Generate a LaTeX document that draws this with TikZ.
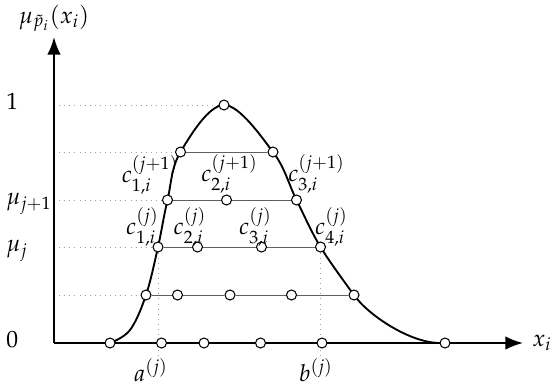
\documentclass[tikz,border=0pt]{standalone}
\usepackage{mathpazo}
\usepackage{tikz}
\usetikzlibrary{arrows.meta,positioning,backgrounds}
\tikzset{
  % axes with big filled heads
  axisln/.style={-{Latex[length=8.5pt,width=6.5pt]}, line width=0.9pt},
  % membership curve
  curveln/.style={line width=0.9pt, line join=round},
  % alpha-cut levels
  levelln/.style={line width=0.45pt, gray!75!black},
  % helper lines to the axes
  projln/.style={dotted, line width=0.45pt, gray!75},
  % sample points
  ptnode/.style={circle, draw, line width=0.5pt, fill=white, inner sep=0pt, minimum size=4.8pt},
  % tick labels
  ticklbl/.style={anchor=mid west, inner sep=0pt},
}

\begin{document}
\begin{tikzpicture}[x=0.48pt, y=0.48pt, font=\fontsize{11.3}{13.6}\selectfont]
    \useasboundingbox (0,0) rectangle (550,386);
    % axes end points
    \coordinate (o) at (54,43);
    \coordinate (ytip) at (54,349);
    \coordinate (xtip) at (523,43);
    % points on the curve
    \node[ptnode] (f0) at (110,43) {};
    \node[ptnode] (l1) at (146,91) {};
    \node[ptnode] (l2) at (158,139) {};
    \node[ptnode] (l3) at (167.5,186) {};
    \node[ptnode] (l4) at (180.5,234) {};
    \node[ptnode] (pk) at (224,281) {};
    \node[ptnode] (r4) at (273,234) {};
    \node[ptnode] (r3) at (296.5,186) {};
    \node[ptnode] (r2) at (320.5,139) {};
    \node[ptnode] (r1) at (354,91) {};
    \node[ptnode] (f1) at (445,43) {};
    % inner points of the levels
    \node[ptnode] (m11) at (177.5,91) {};
    \node[ptnode] (m12) at (230,91) {};
    \node[ptnode] (m13) at (291.5,91) {};
    \node[ptnode] (m21) at (197.5,139) {};
    \node[ptnode] (m22) at (261.5,139) {};
    \node[ptnode] (m31) at (226.5,186) {};
    \node[ptnode] (n1) at (161.5,43) {};
    \node[ptnode] (n2) at (204,43) {};
    \node[ptnode] (n3) at (260.5,43) {};
    \node[ptnode] (n4) at (322,43) {};
    % helper coordinates on the y-axis and below the x-axis
    \coordinate (y1) at (54,91);
    \coordinate (y2) at (54,139);
    \coordinate (y3) at (54,186);
    \coordinate (y4) at (54,234);
    \coordinate (y5) at (54,281);
    \coordinate (adot) at (158,28);
    \coordinate (bdot) at (320.5,28);
    \begin{scope}[on background layer]
      % dotted projections
      \draw[projln] (y1) -- (l1);
      \draw[projln] (y2) -- (l2);
      \draw[projln] (y3) -- (l3);
      \draw[projln] (y4) -- (l4);
      \draw[projln] (y5) -- (pk);
      \draw[projln] (l2) -- (adot);
      \draw[projln] (r2) -- (bdot);
      % axes
      \draw[axisln] (o) -- (xtip);
      \draw[axisln] (o) -- (ytip);
      % the curve, flat tail on the right
      \draw[curveln] plot[smooth, tension=0.6] coordinates {(f0.center) (130,56)
        (l1.center) (l2.center) (l3.center) (l4.center) (pk.center) (r4.center)
        (r3.center) (r2.center) (r1.center)}
        .. controls (368,71) and (410,43) .. (440,43) -- (f1.center);
    \end{scope}
    % levels
    \draw[levelln] (l1) -- (m11) -- (m12) -- (m13) -- (r1);
    \draw[levelln] (l2) -- (m21) -- (m22) -- (r2);
    \draw[levelln] (l3) -- (m31) -- (r3);
    \draw[levelln] (l4) -- (r4);
    % axis labels
    \node[above=-1pt] (ylab) at (ytip) {$\mu_{\tilde{p}_i}(x_i)$};
    \node[right=1pt] (xlab) at (xtip) {$x_i$};
    \node[ticklbl] (t1) at (6,281) {$1$};
    \node[ticklbl] (tmj1) at (6,186) {$\mu_{j+1}$};
    \node[ticklbl] (tmj) at (6,139) {$\mu_j$};
    \node[ticklbl] (t0) at (6,43) {$0$};
    \node (alab) at (151,16) {$a^{(j)}$};
    \node (blab) at (316,16) {$b^{(j)}$};
    % point labels
    \node (c13) at (150,211) {$c_{1,i}^{(j+1)}$};
    \node (c23) at (229.5,212) {$c_{2,i}^{(j+1)}$};
    \node (c33) at (316.5,212) {$c_{3,i}^{(j+1)}$};
    \node (c12) at (142.5,159) {$c_{1,i}^{(j)}$};
    \node (c22) at (190,159) {$c_{2,i}^{(j)}$};
    \node (c32) at (255.5,159) {$c_{3,i}^{(j)}$};
    \node (c42) at (331.5,159) {$c_{4,i}^{(j)}$};
\end{tikzpicture}
\end{document}
